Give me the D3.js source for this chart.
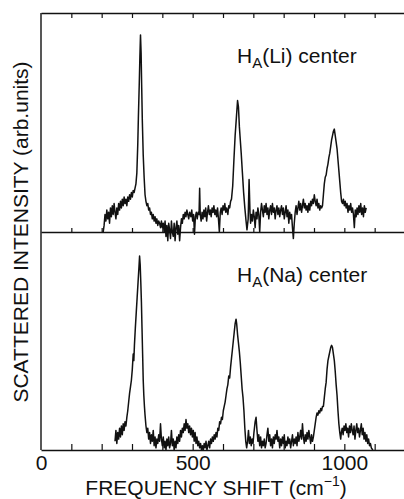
<!DOCTYPE html>
<html><head><meta charset="utf-8">
<script src="https://cdn.jsdelivr.net/npm/d3@7"></script>
<style>
html,body{margin:0;padding:0;background:#fff;}
svg{display:block;}
text{font-family:"Liberation Sans",Arial,Helvetica,sans-serif;fill:#111;}
</style></head>
<body>
<svg id="chart" width="404" height="499"></svg>
<script>
// ---- data (frequency shift in cm^-1, intensity in arb. units 0-100) ----
const liSpectrum = [
[205,0],[208,3],[211,8],[214,5],[217,10],[220,6],[223,9],[226,4],[229,11],[232,7],[235,12],[238,8],[241,13],[244,9],[247,6],[250,11],[253,8],[256,13],[259,10],[262,14],[265,11],[268,15],[271,12],[274,16],[277,13],[280,15],[283,12],[286,16],[289,14],[292,17],[295,15],[298,18],[301,16],[304,19],[307,18],[310,20],[313,22],[316,27],[319,40],[321,52],[324,68],[326,80],[328,90],[330,82],[332,66],[334,51],[337,35],[340,25],[343,17],[346,14],[349,12],[352,13],[355,10],[358,11],[361,8],[364,9],[367,6],[370,8],[373,5],[376,7],[379,4],[382,6],[385,3],[388,5],[391,4],[394,2],[397,5],[400,2],[403,4],[406,0],[409,5],[412,-2],[415,3],[418,-4],[421,4],[424,1],[427,-3],[430,5],[433,0],[436,-2],[439,4],[442,-4],[445,2],[448,5],[451,-1],[454,3],[457,-4],[460,2],[463,6],[466,4],[469,8],[472,6],[475,9],[478,7],[481,10],[484,8],[487,6],[490,9],[494,7],[497,10],[500,5],[503,8],[506,-1],[509,7],[512,9],[515,6],[518,9],[521,8],[523,20],[525,8],[528,5],[531,9],[534,6],[537,10],[540,7],[543,11],[546,5],[549,9],[552,12],[555,8],[558,10],[561,7],[564,11],[567,9],[570,12],[573,8],[576,10],[579,7],[582,11],[585,6],[588,0],[591,9],[594,11],[597,8],[600,12],[603,10],[606,13],[609,9],[612,11],[616,8],[619,12],[622,11],[625,14],[628,15],[632,21],[636,33],[640,44],[644,52],[648,60],[651,57],[654,48],[657,42],[660,36],[664,27],[668,18],[672,11],[676,5],[679,1],[683,6],[686,24],[689,9],[691,4],[694,8],[697,5],[700,10],[703,7],[706,2],[709,9],[712,6],[715,11],[718,8],[721,0],[724,9],[727,13],[730,10],[733,7],[736,12],[739,9],[742,13],[745,8],[748,11],[751,6],[754,10],[757,12],[760,8],[763,13],[766,9],[769,11],[772,6],[775,10],[778,12],[781,8],[784,11],[787,7],[790,10],[793,12],[796,8],[799,11],[802,6],[805,9],[808,12],[811,7],[814,10],[817,4],[820,9],[823,6],[826,8],[829,2],[832,-3],[835,4],[838,9],[841,12],[844,8],[847,11],[850,14],[853,10],[856,13],[859,9],[862,12],[865,15],[868,11],[871,13],[874,10],[877,12],[880,9],[883,13],[886,10],[889,14],[892,12],[895,15],[898,13],[901,17],[904,14],[907,12],[910,15],[913,11],[916,13],[919,10],[922,12],[925,11],[928,12],[931,17],[934,22],[937,25],[940,26],[943,29],[946,31],[949,34],[952,36],[955,39],[958,42],[961,44],[964,46],[967,47],[970,44],[973,41],[976,38],[979,33],[982,28],[985,23],[988,18],[991,14],[994,13],[997,15],[1000,12],[1003,14],[1006,11],[1009,13],[1012,9],[1015,12],[1018,10],[1021,13],[1024,9],[1027,11],[1030,8],[1033,2],[1036,10],[1039,7],[1042,11],[1045,8],[1048,12],[1051,9],[1054,13],[1057,8],[1060,11],[1063,7],[1066,12],[1069,9],[1072,11]
];
const naSpectrum = [
[244,4],[247,9],[250,3],[253,8],[256,5],[259,10],[262,6],[265,11],[268,7],[271,12],[274,9],[277,13],[280,11],[283,15],[286,18],[289,22],[292,26],[295,29],[298,32],[301,37],[304,44],[306,41],[308,48],[311,56],[314,63],[317,70],[320,77],[323,84],[325,89],[327,85],[329,77],[331,68],[333,56],[335,44],[337,32],[339,25],[341,20],[343,16],[346,11],[349,8],[352,10],[355,5],[358,8],[361,3],[364,7],[367,4],[370,9],[373,2],[376,6],[379,1],[382,5],[385,3],[388,7],[391,4],[394,12],[397,5],[400,2],[403,6],[406,1],[409,4],[412,0],[415,5],[418,2],[421,6],[424,1],[427,3],[430,9],[433,2],[436,5],[439,0],[442,4],[445,1],[448,6],[451,3],[454,7],[457,4],[460,9],[463,6],[466,10],[469,8],[472,12],[475,9],[478,14],[481,10],[484,12],[487,8],[490,11],[493,7],[496,10],[499,6],[502,9],[505,4],[508,8],[511,3],[514,6],[517,2],[520,4],[523,1],[526,3],[529,0],[532,2],[535,0],[538,3],[541,1],[544,4],[547,0],[550,2],[553,4],[556,1],[559,5],[562,3],[565,6],[568,4],[571,7],[574,5],[577,8],[580,6],[583,10],[586,9],[589,13],[592,12],[595,15],[598,14],[601,18],[604,20],[607,22],[610,25],[613,28],[616,30],[619,34],[622,33],[625,38],[628,42],[631,46],[634,50],[637,54],[640,58],[643,60],[645,58],[648,53],[651,49],[654,45],[657,40],[660,34],[663,28],[666,24],[669,18],[672,10],[675,4],[678,1],[681,4],[684,9],[687,3],[690,6],[693,2],[696,5],[699,3],[702,8],[706,13],[709,15],[712,9],[715,4],[718,7],[721,2],[724,6],[727,1],[730,4],[733,2],[736,5],[739,1],[742,3],[745,7],[748,10],[751,4],[754,7],[757,2],[760,5],[763,1],[766,6],[769,3],[772,7],[775,5],[778,9],[781,4],[784,6],[787,1],[790,5],[793,2],[796,6],[799,3],[802,7],[805,1],[808,4],[811,2],[814,6],[817,3],[820,5],[823,1],[826,4],[829,7],[832,2],[835,5],[838,3],[841,6],[844,2],[847,8],[850,4],[853,6],[856,9],[859,5],[862,12],[865,6],[868,3],[871,7],[874,4],[877,8],[880,5],[883,9],[886,6],[889,3],[892,7],[895,4],[898,6],[901,9],[904,12],[907,15],[910,17],[913,16],[916,18],[919,17],[922,19],[925,18],[928,20],[931,20],[934,24],[937,28],[940,31],[943,37],[946,41],[949,43],[952,45],[955,47],[958,48],[961,47],[964,44],[967,41],[970,36],[973,30],[976,25],[979,18],[982,12],[985,8],[988,5],[990,8],[993,10],[996,7],[999,11],[1002,9],[1005,12],[1008,8],[1011,10],[1014,6],[1017,11],[1020,8],[1023,12],[1026,9],[1029,7],[1032,11],[1035,5],[1038,9],[1041,12],[1044,8],[1047,10],[1050,6],[1053,9],[1056,12],[1059,7],[1062,10],[1065,5],[1068,8],[1071,4],[1074,7],[1077,3],[1080,5],[1083,2],[1086,3],[1089,1],[1094,0]
];
const minorTicks = [100,200,300,400,500,600,700,800,900,1000,1100];
const tickLabels = [0,500,1000];
const panelNames = ["Li","Na"];
const xTitle = "FREQUENCY SHIFT (cm";
const yTitle = "SCATTERED INTENSITY (arb.units)";

// ---- layout ----
const svg = d3.select("#chart");
const L = 41, R = 405, T = 13, M = 232, B = 450;
const x = d3.scaleLinear().domain([0,1200]).range([L,R]);
const yTop = d3.scaleLinear().domain([0,100]).range([M,T]);
const yBot = d3.scaleLinear().domain([0,100]).range([B,M]);

function styleAxis(g){
  g.selectAll("path.domain").attr("stroke","#111").attr("stroke-width",1.4);
  g.selectAll(".tick line").attr("stroke","#111").attr("stroke-width",1.2);
}
// top frame with inward ticks
svg.append("g").attr("transform",`translate(0,${T})`)
  .call(d3.axisBottom(x).tickValues(minorTicks).tickSize(5).tickSizeOuter(0).tickFormat(""))
  .call(styleAxis);
// middle divider with small ticks up
svg.append("g").attr("transform",`translate(0,${M})`)
  .call(d3.axisTop(x).tickValues(minorTicks).tickSize(4).tickSizeOuter(0).tickFormat(""))
  .call(styleAxis);
// bottom axis with ticks up
svg.append("g").attr("transform",`translate(0,${B})`)
  .call(d3.axisTop(x).tickValues(minorTicks).tickSize(6).tickSizeOuter(0).tickFormat(""))
  .call(styleAxis);
const lab = svg.append("g").attr("transform",`translate(0,${B})`)
  .call(d3.axisBottom(x).tickValues(tickLabels).tickSize(0).tickPadding(5).tickFormat(d3.format("d")));
lab.select("path.domain").remove();
lab.selectAll("text").attr("font-size",21).attr("fill","#111")
  .style("font-family",'"Liberation Sans",Arial,sans-serif');
// left frame
svg.append("line").attr("x1",L).attr("x2",L).attr("y1",T).attr("y2",B)
  .attr("stroke","#111").attr("stroke-width",1.4);

// spectra
const lineTop = d3.line().x(d=>x(d[0])).y(d=>yTop(d[1]));
const lineBot = d3.line().x(d=>x(d[0])).y(d=>yBot(d[1]));
svg.append("path").datum(liSpectrum).attr("d",lineTop)
  .attr("fill","none").attr("stroke","#111").attr("stroke-width",1.5).attr("stroke-linejoin","round");
svg.append("path").datum(naSpectrum).attr("d",lineBot)
  .attr("fill","none").attr("stroke","#111").attr("stroke-width",1.5).attr("stroke-linejoin","round");

// panel labels
function panelLabel(yb, name){
  const t = svg.append("text").attr("x",237).attr("y",yb).attr("font-size",21);
  t.append("tspan").text("H");
  t.append("tspan").attr("font-size",15).attr("dy",5).text("A");
  t.append("tspan").attr("dy",-5).text(`(${name}) center`);
}
panelLabel(63, panelNames[0]);
panelLabel(282, panelNames[1]);

// axis titles
const xt = svg.append("text").attr("x",216).attr("y",495).attr("text-anchor","middle").attr("font-size",21);
xt.append("tspan").text(xTitle);
xt.append("tspan").attr("font-size",14).attr("dy",-9).text("\u22121");
xt.append("tspan").attr("dy",9).text(")");
svg.append("text").attr("transform",`translate(28,232) rotate(-90)`)
  .attr("text-anchor","middle").attr("font-size",21).text(yTitle);
</script>
</body></html>
